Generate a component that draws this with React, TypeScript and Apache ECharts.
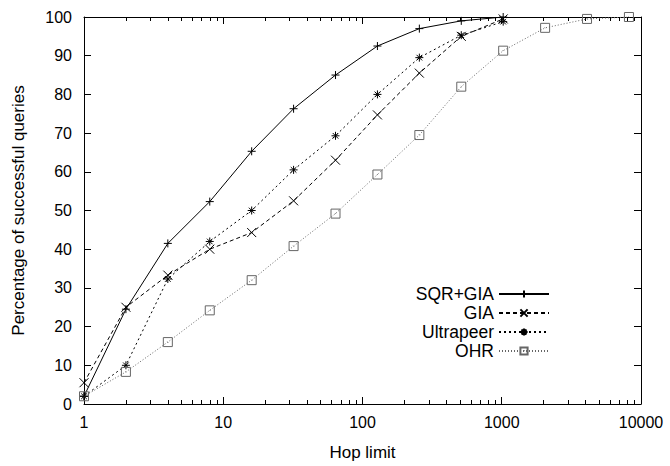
import React, { useEffect, useRef } from "react";
import * as echarts from "echarts";

const hops = [1, 2, 4, 8, 16, 32, 64, 128, 256, 512, 1024];
const ohrHops = [1, 2, 4, 8, 16, 32, 64, 128, 256, 512, 1024, 2048, 4096, 8192];
const sqrGia = [2, 24.5, 41.5, 52.3, 65.3, 76.3, 85, 92.5, 97, 99, 100];
const gia = [5.5, 25, 33.3, 40, 44.3, 52.5, 63, 74.7, 85.5, 95, 99.5];
const ultrapeer = [2, 10, 32.3, 42, 50, 60.5, 69.3, 80, 89.5, 95.3, 98.8];
const ohr = [2, 8.3, 16, 24.2, 32, 40.8, 49.2, 59.3, 69.5, 82, 91.3, 97.2, 99.5, 100];
const xMajor = [1, 10, 100, 1000, 10000];
const xMinor = [2, 3, 4, 5, 6, 7, 8, 9, 20, 30, 40, 50, 60, 70, 80, 90, 200, 300, 400, 500, 600, 700, 800, 900, 2000, 3000, 4000, 5000, 6000, 7000, 8000, 9000];
const names = ["SQR+GIA", "GIA", "Ultrapeer", "OHR"];

const FONT = "Liberation Sans";
const PLUS = "path://M5 0 L5 10 M0 5 L10 5";
const CROSS = "path://M0 0 L10 10 M10 0 L0 10";
const STAR = "path://M5 0 L5 10 M0 5 L10 5 M1.5 1.5 L8.5 8.5 M8.5 1.5 L1.5 8.5";
const SQUARE = "path://M0 0 L10 0 L10 10 L0 10 Z M4.6 4.6 L5.4 5.4";

export default function App() {
  const ref = useRef<HTMLDivElement>(null);
  useEffect(() => {
    if (!ref.current) return;
    const chart = echarts.init(ref.current, null, { renderer: "svg" });
    const pair = (xs: number[], ys: number[]) => xs.map((x, i) => [x, ys[i]]);
    const baseX = {
      type: "log",
      logBase: 10,
      min: 1,
      max: 10000,
      gridIndex: 0,
      splitLine: { show: false },
      minorTick: { show: false },
    };
    const mkSeries = (name: string, xs: number[], ys: number[], symbol: string, size: number, lineType: any, color: string) => ({
      name,
      type: "line",
      data: pair(xs, ys),
      symbol,
      symbolSize: size,
      showSymbol: true,
      itemStyle: { color: "none", borderColor: color, borderWidth: 1 },
      lineStyle: { color, width: 1, type: lineType },
      emphasis: { disabled: true },
      z: 3,
    });
    const legendRow = (name: string, top: number) => ({
      data: [name],
      orient: "vertical",
      align: "right",
      right: 120,
      top,
      padding: 0,
      itemWidth: 50,
      itemHeight: 9,
      itemGap: 0,
      selectedMode: false,
      textStyle: { fontFamily: FONT, fontSize: 17.5, lineHeight: 15, color: "#000" },
    });
    chart.setOption({
      animation: false,
      backgroundColor: "#fff",
      grid: { left: 84, right: 29, top: 17, bottom: 57 },
      xAxis: [
        {
          ...baseX,
          position: "bottom",
          name: "Hop limit",
          nameLocation: "middle",
          nameGap: 40,
          nameTextStyle: { fontFamily: FONT, fontSize: 17, color: "#000" },
          axisLine: { show: true, lineStyle: { color: "#000", width: 1 } },
          axisTick: { show: true, inside: true, length: 7, customValues: xMajor, lineStyle: { color: "#000" } },
          axisLabel: {
            show: true,
            customValues: xMajor,
            formatter: (v: number) => String(Math.round(v)),
            fontFamily: FONT,
            fontSize: 16,
            color: "#000",
            margin: 10,
          },
        },
        {
          ...baseX,
          position: "bottom",
          axisLine: { show: false },
          axisTick: { show: true, inside: true, length: 4, customValues: xMinor, lineStyle: { color: "#000" } },
          axisLabel: { show: false },
        },
        {
          ...baseX,
          position: "top",
          axisLine: { show: true, lineStyle: { color: "#000", width: 1 } },
          axisTick: { show: true, inside: true, length: 7, customValues: xMajor, lineStyle: { color: "#000" } },
          axisLabel: { show: false },
        },
        {
          ...baseX,
          position: "top",
          axisLine: { show: false },
          axisTick: { show: true, inside: true, length: 4, customValues: xMinor, lineStyle: { color: "#000" } },
          axisLabel: { show: false },
        },
      ],
      yAxis: [
        {
          type: "value",
          min: 0,
          max: 100,
          interval: 10,
          position: "left",
          name: "Percentage of successful queries",
          nameLocation: "middle",
          nameGap: 57,
          nameTextStyle: { fontFamily: FONT, fontSize: 17, color: "#000" },
          splitLine: { show: false },
          axisLine: { show: true, lineStyle: { color: "#000", width: 1 } },
          axisTick: { show: true, inside: true, length: 7, lineStyle: { color: "#000" } },
          axisLabel: { fontFamily: FONT, fontSize: 16, color: "#000", margin: 12 },
        },
        {
          type: "value",
          min: 0,
          max: 100,
          interval: 10,
          position: "right",
          splitLine: { show: false },
          axisLine: { show: true, lineStyle: { color: "#000", width: 1 } },
          axisTick: { show: true, inside: true, length: 7, lineStyle: { color: "#000" } },
          axisLabel: { show: false },
        },
      ],
      legend: [
        legendRow(names[0], 285),
        legendRow(names[1], 304),
        legendRow(names[2], 323),
        legendRow(names[3], 342),
      ],
      series: [
        mkSeries(names[0], hops, sqrGia, PLUS, 8, "solid", "#000"),
        mkSeries(names[1], hops, gia, CROSS, 9, [4, 3], "#000"),
        mkSeries(names[2], hops, ultrapeer, STAR, 8, [2, 3], "#000"),
        mkSeries(names[3], ohrHops, ohr, SQUARE, 9, [1, 2], "#666"),
      ],
    });
    return () => chart.dispose();
  }, []);
  return (
    <div
      ref={ref}
      style={{ position: "absolute", left: 0, top: 0, width: 670, height: 466 }}
    />
  );
}
